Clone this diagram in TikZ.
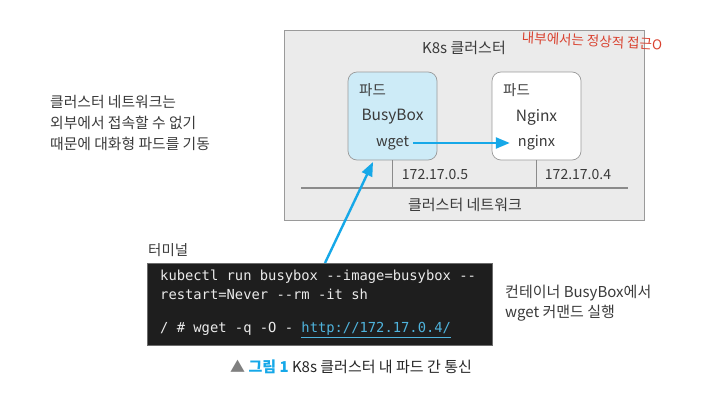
\documentclass[tikz,border=0pt]{standalone}
\usepackage{fontspec}
\setmainfont{Noto Sans CJK KR}
\setmonofont{DejaVu Sans Mono}
\usetikzlibrary{arrows.meta,calc}
\definecolor{txt}{HTML}{3A3A3A}
\definecolor{clfill}{HTML}{EBEBEB}
\definecolor{clline}{HTML}{9A9A9A}
\definecolor{podblue}{HTML}{CDEBF7}
\definecolor{arrblue}{HTML}{16A8E8}
\definecolor{termbg}{HTML}{1E1E1E}
\definecolor{urlblue}{HTML}{4FB3DC}
\definecolor{hand}{HTML}{D9412F}
\tikzset{
  lbl/.style={inner sep=0pt, text=txt, font=\fontsize{14}{16}\selectfont},
  podbox/.style={draw=clline, line width=0.7pt, rounded corners=9pt, minimum width=89pt, minimum height=88pt, inner sep=0pt},
  code/.style={inner sep=0pt, anchor=west, text=white!92!black, font=\ttfamily\fontsize{13.8}{16}\selectfont},
  bluearrow/.style={draw=arrblue, line width=2.4pt, -{Triangle[length=14pt,width=11pt]}},
  netline/.style={draw=clline!90!black, line width=1.2pt}
}
\begin{document}
\begin{tikzpicture}[x=1pt,y=-1pt]
\useasboundingbox (0,0) rectangle (706,402);
% cluster
\node[draw=clline, fill=clfill, line width=0.8pt, minimum width=360pt, minimum height=190pt, inner sep=0pt] (cluster) at (464,125) {};
\node[lbl, font=\fontsize{15}{17}\selectfont] (cltitle) at (464,48) {K8s 클러스터};
\node[inner sep=0pt, text=hand, font=\fontsize{13.5}{15}\selectfont, rotate=-3] (handnote) at (592,41) {내부에서는 정상적 접근O};
% pods
\node[podbox, fill=podblue] (busy) at (392.5,116) {};
\node[podbox, fill=white] (nginx) at (536.5,116) {};
\node[lbl, font=\fontsize{14.5}{16}\selectfont, anchor=west] (busypod) at (359,90) {파드};
\node[lbl, font=\fontsize{15.5}{18}\selectfont] (busyname) at (392.5,117) {BusyBox};
\node[lbl, font=\fontsize{14.5}{18}\selectfont] (wget) at (392.5,143) {wget};
\node[lbl, font=\fontsize{14.5}{16}\selectfont, anchor=west] (nginxpod) at (503,90) {파드};
\node[lbl, font=\fontsize{15.5}{18}\selectfont] (nginxname) at (536.5,117) {Nginx};
\node[lbl, font=\fontsize{14.5}{18}\selectfont] (nginxproc) at (536.5,143) {nginx};
\draw[bluearrow] (wget.east) ++(4,0) coordinate (wgetE) -- ($(nginxproc.west)+(-8,0)$) coordinate (nginxW);
% network
\coordinate (netL) at (301,188);
\coordinate (netR) at (628,188);
\draw[netline] (netL) -- (netR);
\draw[netline] (busy.south) -- (busy.south |- netL);
\draw[netline] (nginx.south) -- (nginx.south |- netL);
\node[lbl] (ip5) at (435,175) {172.17.0.5};
\node[lbl] (ip4) at (578,175) {172.17.0.4};
\node[lbl, font=\fontsize{15}{17}\selectfont] (netname) at (465,205) {클러스터 네트워크};
% left note
\node[lbl, anchor=north west, align=left, font=\fontsize{14.8}{21}\selectfont] (leftnote) at (50,95) {클러스터 네트워크는\\외부에서 접속할 수 없기\\때문에 대화형 파드를 기동};
% terminal
\node[lbl, font=\fontsize{14.5}{16}\selectfont, anchor=west] (termlabel) at (148,250) {터미널};
\node[draw=clline!70!black, fill=termbg, line width=0.8pt, minimum width=345pt, minimum height=82pt, inner sep=0pt, anchor=north west] (term) at (147,263) {};
\node[code] (code1) at (160,277) {kubectl run busybox --image=busybox --};
\node[code] (code2) at (160,294.5) {restart=Never --rm -it sh};
\node[code] (code3) at (160,330) {/ \# wget -q -O - {\color{urlblue}\underline{http://172.17.0.4/}}};
\coordinate (arrS) at ($(term.north west)+(178,0)$);
\coordinate (arrE) at (373,162);
\draw[bluearrow] (arrS) -- (arrE);
% right note
\node[lbl, anchor=north west, align=left, font=\fontsize{15}{20}\selectfont] (rightnote) at (505,285) {컨테이너 BusyBox에서\\wget 커맨드 실행};
% caption
\node[inner sep=0pt, font=\fontsize{15}{17}\selectfont] (caption) at (351,367) {{\color{gray}▲} {\bfseries\color{arrblue}그림 1} {\color{black!85}K8s 클러스터 내 파드 간 통신}};
\end{tikzpicture}
\end{document}
